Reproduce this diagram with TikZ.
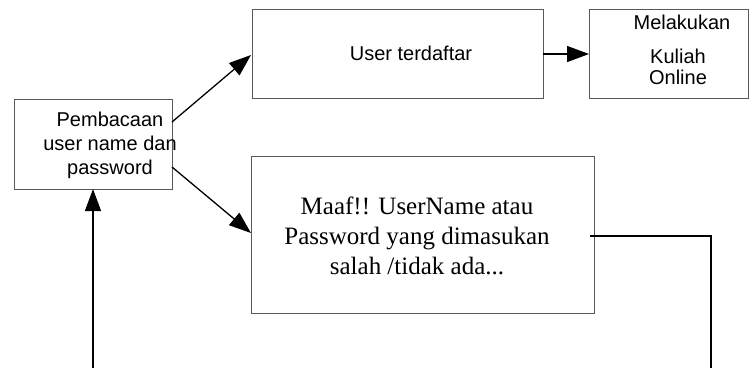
\documentclass[tikz,border=0pt]{standalone}
\usepackage{fontspec}
\setmainfont{Liberation Serif}
\setsansfont{Liberation Sans}
\usetikzlibrary{arrows.meta}
\begin{document}
\begin{tikzpicture}[x=1bp,y=-1bp,
  box/.style={draw=black!65,line width=0.9bp,minimum width=#1,inner sep=0pt,anchor=north west},
  sanslabel/.style={font=\sffamily\fontsize{20bp}{24bp}\selectfont,align=center,inner sep=0pt},
  seriflabel/.style={font=\rmfamily\fontsize{25bp}{30bp}\selectfont,align=center,inner sep=0pt},
  flow/.style={draw=black,line width=1.3bp,-{Triangle[length=22bp,width=16bp]}},
  wire/.style={draw=black,line width=1.3bp}]
\useasboundingbox (0,0) rectangle (749,368);

% boxes
\node[box=158bp,minimum height=90bp] (read) at (14,99) {};
\node[box=291bp,minimum height=89bp] (reg) at (252,9) {};
\node[box=159bp,minimum height=89bp] (kul) at (589,9) {};
\node[box=343bp,minimum height=157bp] (err) at (251,156) {};

% texts
\node[sanslabel] (readtxt) at (110,145) {Pembacaan\\user name dan\\password};
\node[sanslabel] (regtxt) at (411,53) {User terdaftar};
\node[sanslabel] (kultop) at (682,22) {Melakukan};
\node[sanslabel,font=\sffamily\fontsize{20bp}{21bp}\selectfont] (kultxt) at (678,67) {Kuliah\\Online};
\node[seriflabel] (errtxt) at (417,236) {Maaf!! UserName atau\\Password yang dimasukan\\salah /tidak ada...};

% connection points
\coordinate (readA) at (172,122);
\coordinate (readB) at (172,167);
\coordinate (regIn) at (251,55);
\coordinate (errIn) at (251,233);
\coordinate (errOut) at (590,236);
\coordinate (turn) at (711,236);
\coordinate (downEnd) at (711,368);
\coordinate (upStart) at (93,368);
\coordinate (upEnd) at (93,189);
\coordinate (regOut) at (543,54);
\coordinate (kulIn) at (589,54);

% connectors
\draw[flow] (readA) -- (regIn);
\draw[flow] (readB) -- (errIn);
\draw[flow] (regOut) -- (kulIn);
\draw[wire] (errOut) -- (turn) -- (downEnd);
\draw[flow] (upStart) -- (upEnd);
\end{tikzpicture}
\end{document}
